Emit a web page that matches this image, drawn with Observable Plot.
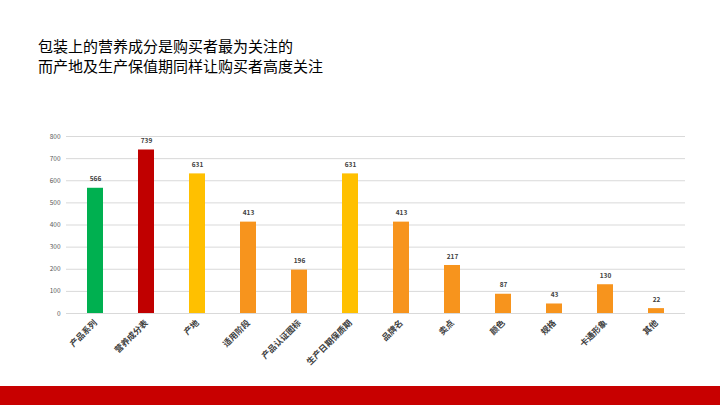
<!DOCTYPE html>
<html><head><meta charset="utf-8">
<script src="https://cdn.jsdelivr.net/npm/d3@7"></script>
<script src="https://cdn.jsdelivr.net/npm/@observablehq/plot@0.6"></script>
<style>
body{margin:0;background:#fff;font-family:"Noto Sans CJK SC",sans-serif;}
#wrap{position:relative;width:720px;height:405px;overflow:hidden;}
#title{position:absolute;left:38px;top:36px;font-size:15px;line-height:20px;color:#000;font-family:"Noto Sans CJK SC",sans-serif;}
#band{position:absolute;left:0;top:386px;width:720px;height:19px;background:#c80000;}
#chart{position:absolute;left:0;top:0;}
</style></head>
<body><div id="wrap"><div id="title">包装上的营养成分是购买者最为关注的<br>而产地及生产保值期同样让购买者高度关注</div><div id="chart"></div><div id="band"></div></div>
<script>
const categories = ["产品系列","营养成分表","产地","适用阶段","产品认证图标","生产日期保质期","品牌名","卖点","颜色","规格","卡通形象","其他"];
const values = [566,739,631,413,196,631,413,217,87,43,130,22];
const colors = ["#00b050","#c00000","#ffc000","#f7941d","#f7941d","#ffc000","#f7941d","#f7941d","#f7941d","#f7941d","#f7941d","#f7941d"];
const yTicks = [0,100,200,300,400,500,600,700,800];

const data = categories.map((c,i)=>({cat:c, v:values[i], col:colors[i]}));

const chart = Plot.plot({
  width:720, height:405,
  marginTop:136, marginBottom:92, marginLeft:66, marginRight:35,
  style:{fontFamily:"'Noto Sans CJK SC', sans-serif", background:"transparent"},
  x:{domain:categories, paddingInner:0.69, paddingOuter:0.345, align:0.5, label:null, tickSize:0, tickRotate:-45},
  y:{domain:[0,800], ticks:yTicks, label:null, tickSize:0},
  marks:[
    Plot.gridY(yTicks,{stroke:"#d9d9d9", strokeOpacity:1, strokeWidth:1}),
    Plot.barY(data,{x:"cat", y:"v", fill:"col"}),
    Plot.text(data,{x:"cat", y:"v", text:d=>String(d.v), dy:-9, fontSize:6.5, fontWeight:"bold", fill:"#404040"}),
    Plot.axisY({ticks:yTicks, tickSize:0, tickPadding:6, fontSize:6.5, fill:"#595959", label:null}),
    Plot.axisX({tickSize:0, tickRotate:-45, tickPadding:8, fontSize:8.5, fontWeight:"bold", fill:"#404040", label:null})
  ]
});
document.getElementById("chart").appendChild(chart);
</script></body></html>
